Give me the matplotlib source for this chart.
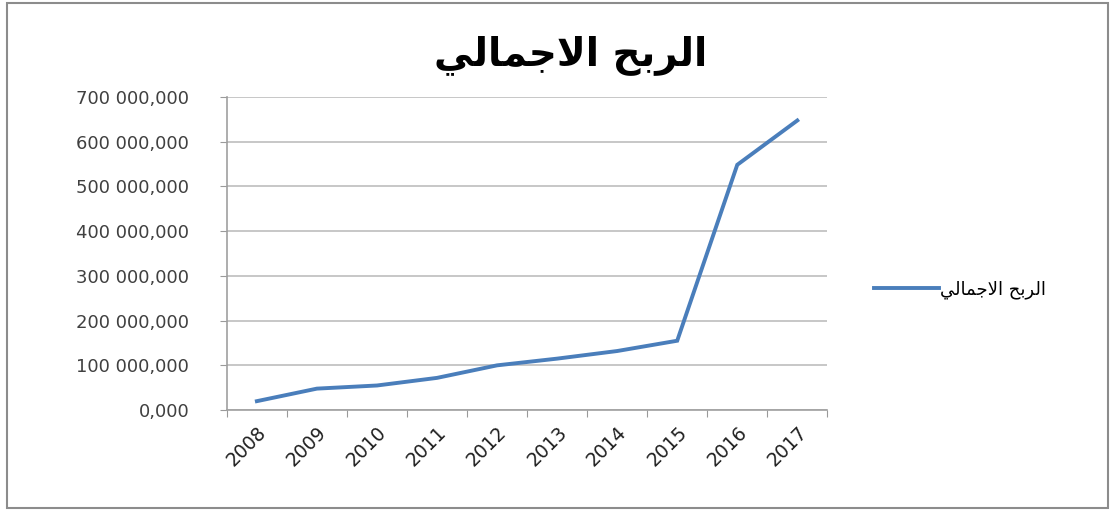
import matplotlib
matplotlib.use("Agg")
import matplotlib.pyplot as plt
from matplotlib.patches import Rectangle
from matplotlib.transforms import ScaledTranslation

# gross profit per year
years = ["2008", "2009", "2010", "2011", "2012", "2013", "2014", "2015", "2016", "2017"]
profit = [20e6, 48e6, 55e6, 72e6, 100e6, 115e6, 132e6, 155e6, 548e6, 647e6]
y_ticks = [0, 100e6, 200e6, 300e6, 400e6, 500e6, 600e6, 700e6]
y_labels = ["0,000", "100 000,000", "200 000,000", "300 000,000",
            "400 000,000", "500 000,000", "600 000,000", "700 000,000"]
title_text = "الربح الاجمالي"

# simple arabic shaping (matplotlib draws glyphs one by one, no joining)
forms = {
    "ا": ("\uFE8D", "\uFE8E", None, None),
    "ل": ("\uFEDD", "\uFEDE", "\uFEDF", "\uFEE0"),
    "ر": ("\uFEAD", "\uFEAE", None, None),
    "ب": ("\uFE8F", "\uFE90", "\uFE91", "\uFE92"),
    "ح": ("\uFEA1", "\uFEA2", "\uFEA3", "\uFEA4"),
    "ج": ("\uFE9D", "\uFE9E", "\uFE9F", "\uFEA0"),
    "م": ("\uFEE1", "\uFEE2", "\uFEE3", "\uFEE4"),
    "ي": ("\uFEF1", "\uFEF2", "\uFEF3", "\uFEF4"),
}

def shape(text):
    out = []
    for word in text.split(" "):
        glyphs = []
        letters = list(word)
        i = 0
        prev_joins = False
        while i < len(letters):
            ch = letters[i]
            if ch == "ل" and i + 1 < len(letters) and letters[i + 1] == "ا":
                glyphs.append("\uFEFC" if prev_joins else "\uFEFB")
                prev_joins = False
                i += 2
                continue
            iso, fin, ini, med = forms[ch]
            nxt = i + 1 < len(letters)
            can_join_next = ini is not None and nxt
            if prev_joins and can_join_next:
                g = med
            elif prev_joins:
                g = fin
            elif can_join_next:
                g = ini
            else:
                g = iso
            glyphs.append(g)
            prev_joins = can_join_next
            i += 1
        out.append("".join(reversed(glyphs)))
    return " ".join(reversed(out))

label = shape(title_text)

fig = plt.figure(figsize=(11.12, 5.12), dpi=100)
fig.patch.set_facecolor("white")
fig.patches.append(Rectangle((0.006, 0.008), 0.99, 0.987, transform=fig.transFigure,
                             fill=False, edgecolor="#8c8c8c", linewidth=1.5))

ax = fig.add_axes([0.204, 0.199, 0.54, 0.612])
x = [i + 0.5 for i in range(len(years))]
ax.plot(x, profit, color="#4A7EBB", linewidth=2.8, solid_joinstyle="miter", label=label)

ax.set_xlim(0, len(years))
ax.set_ylim(0, 700e6)
ax.set_yticks(y_ticks)
ax.set_yticklabels(y_labels, fontsize=13, color="#404040")
ax.set_xticks(range(len(years) + 1))
ax.set_xticklabels([])
ax.set_xticks(x, minor=True)
ax.set_xticklabels(years, minor=True, rotation=45, ha="right", rotation_mode="anchor",
                   fontsize=13.5, color="#202020")
# nudge year labels a little to the left of the category centre
shift = ScaledTranslation(-0.09, 0, fig.dpi_scale_trans)
for t in ax.get_xticklabels(minor=True):
    t.set_transform(t.get_transform() + shift)
ax.tick_params(axis="x", which="minor", length=0, pad=9)
ax.tick_params(axis="x", which="major", length=5, color="#9a9a9a", direction="out")
ax.tick_params(axis="y", length=5, color="#9a9a9a", pad=22)
ax.grid(axis="y", color="#bdbdbd", linewidth=1.2)
ax.set_axisbelow(True)
for side in ["top", "right"]:
    ax.spines[side].set_visible(False)
for side in ["left", "bottom"]:
    ax.spines[side].set_color("#a0a0a0")
    ax.spines[side].set_linewidth(1.2)

fig.text(0.513, 0.893, label, ha="center", va="center", fontsize=28, fontweight="bold")
ax.legend(loc="center left", bbox_to_anchor=(1.05, 0.383), frameon=False,
          fontsize=13, handlelength=3.6, handletextpad=0.1)

fig.savefig("out.png", dpi=100)
